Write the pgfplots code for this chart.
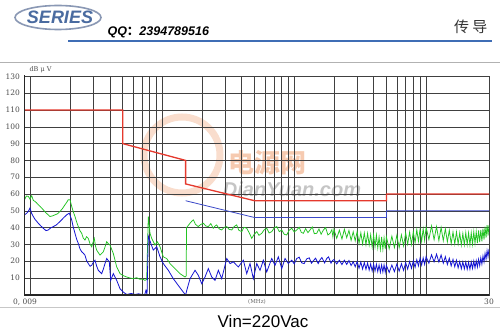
\documentclass[border=0pt]{standalone}
\usepackage{pgfplots}
\pgfplotsset{compat=1.18}
\usepackage{fontspec}
\setmainfont{Liberation Sans}
\newfontfamily\cjk{Noto Sans CJK SC}
\newfontfamily\dvs{DejaVu Serif}
\definecolor{limred}{HTML}{E5392D}
\definecolor{limblue}{HTML}{3A48C8}
\definecolor{qpgreen}{HTML}{22C422}
\definecolor{avblue}{HTML}{1414D2}
\definecolor{hdrblue}{HTML}{3F6DB5}
\definecolor{logoblue}{HTML}{4A6BA0}
\definecolor{logogray}{HTML}{8A98B4}
\definecolor{wmorange}{HTML}{F0A070}
\begin{document}
\begin{tikzpicture}[x=1pt,y=1pt]
\useasboundingbox (0,0) rectangle (500,330);
\fill[white] (0,0) rectangle (500,330);
% header
\draw[logogray, line width=1.6pt] (58,312.5) ellipse (43 and 12);
\node[text=logoblue, font=\fontsize{18}{18}\selectfont\bfseries\itshape] at (60,313) {SERIES};
\node[anchor=west, font=\fontsize{12.5}{13}\selectfont\bfseries\itshape] at (104,298) {QQ{\cjk ：}2394789516};
\draw[hdrblue, line width=2pt] (68,288.7) -- (492,288.7);
\node[anchor=east, text=black!80, font=\cjk\fontsize{15}{15}\selectfont] at (491,303.3) {传 导};
\draw[black!30, line width=1.2pt] (0,267.3) -- (500,267.3);
\draw[black!22, line width=1pt] (0,23) -- (500,23);
% watermark
\draw[wmorange, opacity=0.35, line width=7pt] (182,175) circle (38);
\node[text=wmorange, opacity=0.55, font=\cjk\fontsize{26}{26}\selectfont\bfseries] at (267,167) {电源网};
\node[text=black!45, opacity=0.5, font=\fontsize{20}{20}\selectfont\bfseries\itshape] at (292,141) {DianYuan.com};
\begin{axis}[
  at={(24.5pt,35.2pt)}, anchor=south west,
  scale only axis, width=464.5pt, height=218.4pt,
  xmode=log, xmin=0.009, xmax=30, ymin=0, ymax=130,
  ytick={10,20,...,130},
  xticklabels={},
  grid=both,
  major grid style={black!75, line width=0.6pt},
  minor grid style={black!75, line width=0.6pt},
  major tick length=0pt, minor tick length=0pt,
  axis line style={black!75, line width=0.6pt},
  /pgf/number format/assume math mode=true,
  yticklabel style={font=\dvs\fontsize{7.5}{8}\selectfont, text=black!70, xshift=-1pt},
]
% limits
\addplot[limred, line width=1.3pt] coordinates {(0.009,110) (0.05,110) (0.05,90) (0.15,80) (0.15,66) (0.5,56) (5,56) (5,60) (30,60)};
\addplot[limblue, line width=0.8pt] coordinates {(0.15,56) (0.5,46) (5,46) (5,50) (30,50)};
% QP (green)
\addplot[qpgreen, line width=0.75pt] coordinates {
(0.009,56.5)(0.0093,58.8)(0.00962,58.6)(0.0099,57.0)(0.01021,59.0)(0.0105,56.2)(0.01081,55.6)(0.0111,54.8)(0.01145,53.6)(0.0119,52.4)(0.01249,50.6)(0.0131,48.8)(0.0136,47.6)(0.01405,46.6)(0.0147,47.0)(0.01533,47.6)(0.016,48.2)(0.01672,49.6)(0.0175,51.4)(0.01826,53.6)(0.0188,55.0)(0.01934,56.6)(0.01993,56.6)(0.02052,52.6)(0.0211,49.4)(0.02174,46.6)(0.0224,43.2)(0.02303,40.6)(0.0237,38.2)(0.02445,36.6)(0.0251,33.8)(0.02588,32.6)(0.0266,34.6)(0.02742,33.6)(0.0283,30.2)(0.0291,28.6)(0.02985,31.4)(0.03045,33.6)(0.0311,29.0)(0.03175,26.6)(0.03363,23.6)(0.03564,25.6)(0.0367,28.4)(0.03783,31.6)(0.0389,30.4)(0.04007,29.6)(0.04244,24.6)(0.04504,16.6)(0.04772,12.6)(0.0505,11.4)(0.05363,10.6)(0.0568,10.0)(0.06017,9.6)(0.0638,10.2)(0.06764,9.2)(0.0707,9.4)(0.07383,8.6)(0.07605,9.2)(0.07821,46.6)(0.08055,36.6)(0.08298,33.6)(0.08789,29.6)(0.0915,31.6)(0.09596,28.6)(0.1016,22.6)(0.1078,21.6)(0.1142,18.6)(0.1247,15.6)(0.136,12.6)(0.1485,10.6)(0.1515,11.2)(0.1525,40.0)
(0.158,41.5)(0.162,42.6)(0.167,43.8)(0.172,44.6)(0.178,42.0)(0.187,40.6)(0.195,41.8)(0.2045,42.6)(0.213,41.0)(0.223,40.6)(0.233,42.4)(0.243,39.6)(0.250,40.8)(0.258,41.6)(0.270,39.2)(0.282,38.6)(0.295,40.2)(0.308,40.6)(0.32,39.0)(0.336,38.6)(0.35,40.6)(0.366,41.6)(0.38,38.4)(0.40,37.6)(0.415,40.2)(0.436,39.6)(0.455,37.0)(0.476,33.6)(0.495,35.8)(0.52,37.6)(0.54,35.4)(0.567,36.6)(0.59,38.6)(0.6185,39.6)(0.645,36.8)(0.675,37.6)(0.705,39.8)(0.737,40.6)(0.77,37.6)(0.804,38.6)(0.84,36.0)(0.877,35.6)(0.915,38.4)(0.957,39.6)(1.0,37.4)(1.045,38.6)(1.09,40.2)(1.13,37.2)(1.172,36.6)(1.22,39.4)(1.27,37.0)(1.318,38.6)(1.37,40.4)(1.42,36.4)(1.481,36.6)(1.54,39.2)(1.60,36.0)(1.663,38.6)(1.73,40.0)(1.80,35.6)(1.868,36.6)(1.93,38.8)(1.965,34.5)
(2.0,39.0)(2.1,33.6)(2.2,38.5)(2.3,33.2)(2.4,39.0)(2.5,34.0)(2.6,38.3)(2.7,32.4)(2.8,37.5)(2.9,32.1)
(3.0,37.7)(3.1,30.6)(3.2,36.9)(3.3,30.2)(3.4,36.8)(3.5,29.8)(3.6,36.6)(3.7,29.6)(3.8,35.8)(3.9,28.3)
(4.0,35.6)(4.1,28.6)(4.2,35.6)(4.3,27.9)(4.4,34.4)(4.5,27.0)(4.6,34.5)(4.7,27.1)(4.8,33.9)(4.9,27.2)
(5.0,34.5)(5.25,27.4)(5.5,34.9)(5.75,28.1)(6.0,35.4)(6.25,28.1)(6.5,35.7)(6.75,29.1)(7.0,36.9)(7.25,30.1)
(7.5,37.3)(7.75,30.0)(8.0,37.6)(8.25,30.9)(8.5,38.8)(8.75,31.8)(9.0,39.0)(9.25,31.7)(9.5,39.3)(9.75,32.3)
(10.0,40.2)(10.5,32.9)(11,41.0)(11.5,32.8)(12,40.6)(12.5,32.3)(13,40.1)(13.5,32.2)(14,39.3)(14.5,31.5)
(15,38.4)(15.5,30.4)(16,37.4)(16.5,30.2)(17,37.4)(17.5,30.2)(18,36.9)(18.5,29.5)(19,36.5)(19.5,29.7)
(20,37.0)(20.5,29.9)(21,36.9)(21.5,29.7)(22,36.9)(22.5,30.0)(23,37.5)(23.5,30.6)(24,37.6)(24.5,30.8)
(25,38.3)(25.5,31.4)(26,38.6)(26.5,31.8)(27,39.4)(27.5,32.8)(28,40.5)(28.5,34.0)(29,41.5)(29.5,35.3)(30,41.5)
};
% AV (blue)
\addplot[avblue, line width=0.8pt] coordinates {
(0.009,47.6)(0.0093,48.4)(0.00962,49.6)(0.00991,51.6)(0.0102,48.4)(0.0105,46.6)(0.0108,45.0)(0.01145,42.6)(0.0119,41.2)(0.01249,39.6)(0.0131,38.2)(0.01364,38.6)(0.0142,39.8)(0.01488,40.6)(0.0157,41.6)(0.01672,43.6)(0.0178,45.8)(0.0188,47.6)(0.01968,48.6)(0.02052,44.6)(0.0211,40.2)(0.02174,36.6)(0.0224,33.0)(0.02303,30.6)(0.0237,27.4)(0.02445,25.6)(0.0251,24.8)(0.02588,23.6)(0.0266,20.4)(0.02742,18.6)(0.0283,17.0)(0.0291,17.6)(0.03,19.4)(0.03083,20.6)(0.0317,17.2)(0.03265,14.6)(0.03465,12.6)(0.0357,15.4)(0.0367,18.6)(0.03783,21.6)(0.03957,19.6)(0.04055,8.6)(0.04244,12.6)(0.04504,8.6)(0.04772,3.6)(0.05053,1.6)(0.05363,0.2)(0.058,0.8)(0.062,0.2)(0.066,0.6)(0.07,0.2)(0.0735,0.2)(0.075,2.6)(0.0765,0.2)(0.0782,35.0)(0.0817,30.6)(0.08534,26.6)(0.09056,28.6)(0.09596,22.6)(0.1016,18.6)(0.1109,14.6)(0.121,9.6)(0.132,5.6)(0.1441,1.6)(0.149,0.2)(0.1505,0.3)
(0.153,2.6)(0.1621,9.6)(0.1769,14.6)(0.1874,11.6)(0.1988,6.6)(0.2106,10.6)(0.2231,15.6)(0.2367,10.6)(0.2508,8.6)(0.2657,14.6)(0.2819,9.6)(0.3076,21.6)(0.3259,18.6)(0.3452,19.6)(0.3767,16.6)(0.4111,20.6)(0.4362,12.6)(0.4622,18.6)(0.4896,9.6)(0.5195,18.6)(0.5503,14.6)(0.583,20.6)(0.6185,13.6)(0.6751,21.6)(0.7152,17.6)(0.7577,22.6)(0.8039,15.6)(0.8516,21.6)(0.9022,18.6)(0.9572,20.6)
(1.0,18.4)(1.045,21.6)(1.09,22.4)(1.14,19.0)(1.19,18.6)(1.244,21.4)(1.30,22.0)(1.35,18.8)(1.396,20.2)(1.45,21.8)(1.52,18.6)(1.569,20.8)(1.62,22.2)(1.70,19.0)(1.764,21.6)(1.82,22.6)(1.90,18.8)(1.95,20.4)
(2.0,21.0)(2.1,18.4)(2.2,20.6)(2.3,18.0)(2.4,20.6)(2.5,18.1)(2.6,20.4)(2.7,17.4)(2.8,19.7)(2.9,16.7)
(3.0,19.8)(3.1,15.8)(3.2,19.5)(3.3,15.3)(3.4,19.2)(3.5,15.2)(3.6,19.0)(3.7,14.7)(3.8,18.4)(3.9,14.2)
(4.0,18.3)(4.1,14.2)(4.2,18.2)(4.3,13.8)(4.4,17.7)(4.5,13.4)(4.6,17.8)(4.7,13.6)(4.8,17.8)(4.9,13.4)
(5.0,17.5)(5.25,13.3)(5.5,17.7)(5.75,13.8)(6.0,18.3)(6.25,14.1)(6.5,18.5)(6.75,14.5)(7.0,19.1)(7.25,15.3)
(7.5,19.8)(7.75,15.8)(8.0,20.2)(8.25,16.3)(8.5,20.9)(8.75,17.2)(9.0,21.8)(9.25,17.7)(9.5,22.0)(9.75,18.1)
(10,22.7)(10.5,18.8)(11,23.8)(11.5,19.6)(12,24.2)(12.5,19.5)(13,23.7)(13.5,18.8)(14,22.7)(14.5,18.0)
(15,21.8)(15.5,17.2)(16,21.1)(16.5,16.7)(17,20.6)(17.5,16.0)(18,19.8)(18.5,15.5)(19,19.6)(19.5,15.4)
(20,19.5)(20.5,15.2)(21,19.4)(21.5,15.2)(22,19.6)(22.5,15.7)(23,20.1)(23.5,16.0)(24,20.3)(24.5,16.5)
(25,21.1)(25.5,17.4)(26,22.0)(26.5,18.3)(27,23.1)(27.5,19.6)(28,24.6)(28.5,21.3)(29,26.2)(29.5,22.7)(30,27.3)
};
\end{axis}
\draw[black!85, line width=1.5pt] (24.5,254.5) -- (24.5,35.2) -- (489,35.2);
\node[text=black!70, font=\dvs\fontsize{6.5}{7}\selectfont] at (40.5,260) {dB μ V};
\node[text=black!70, font=\dvs\fontsize{7.5}{8}\selectfont] at (25,28) {0, 009};
\node[text=black!60, font=\dvs\fontsize{5.5}{6}\selectfont] at (257,28) {(MHz)};
\node[text=black!70, font=\dvs\fontsize{7.5}{8}\selectfont] at (489,28) {30};
\node[font=\fontsize{17}{17}\selectfont] at (263,9) {Vin=220Vac};
\end{tikzpicture}
\end{document}
